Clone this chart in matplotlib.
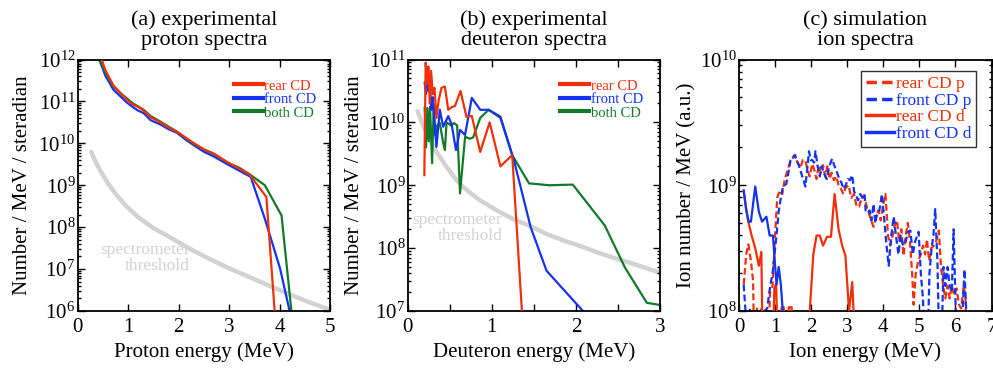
import matplotlib
matplotlib.use("Agg")
import matplotlib.pyplot as plt
import numpy as np
from matplotlib.ticker import LogLocator, FixedLocator, NullFormatter, LogFormatterMathtext

plt.rcParams['font.family'] = ['Liberation Serif', 'DejaVu Serif']
plt.rcParams['mathtext.fontset'] = 'custom'
plt.rcParams['mathtext.rm'] = 'Liberation Serif'
plt.rcParams['mathtext.it'] = 'Liberation Serif:italic'

RED = '#f0300a'
BLUE = '#1433f0'
GREEN = '#137a2a'
GRAY = '#d2d2d2'

# ---------------- (a) proton spectra (log10 values) ----------------
a_red_E = [0.45, 0.55, 0.71, 0.85, 0.97, 1.1, 1.2, 1.31, 1.45, 1.64, 1.8, 1.97, 2.15, 2.31, 2.5, 2.71, 2.85, 2.97, 3.2, 3.41, 3.74, 3.91]
a_red_L = [12.1, 11.75, 11.38, 11.2, 11.05, 10.92, 10.87, 10.78, 10.62, 10.5, 10.38, 10.27, 10.13, 10.0, 9.86, 9.75, 9.64, 9.55, 9.4, 9.25, 8.72, 5.9]
a_blue_E = [0.44, 0.55, 0.71, 0.85, 0.97, 1.1, 1.2, 1.31, 1.45, 1.64, 1.8, 1.97, 2.15, 2.31, 2.5, 2.71, 2.85, 2.97, 3.2, 3.43, 3.71, 4.01, 4.21]
a_blue_L = [11.97, 11.62, 11.28, 11.12, 10.98, 10.86, 10.78, 10.72, 10.55, 10.45, 10.34, 10.25, 10.08, 9.95, 9.8, 9.68, 9.58, 9.5, 9.35, 9.2, 8.2, 7.02, 5.95]
a_green_E = [0.43, 0.55, 0.71, 0.85, 0.97, 1.1, 1.2, 1.31, 1.45, 1.64, 1.8, 1.97, 2.15, 2.31, 2.5, 2.71, 2.85, 2.97, 3.2, 3.41, 3.71, 4.04, 4.24]
a_green_L = [12.0, 11.7, 11.36, 11.2, 11.08, 10.95, 10.88, 10.8, 10.65, 10.52, 10.4, 10.28, 10.12, 9.98, 9.85, 9.74, 9.63, 9.54, 9.42, 9.26, 9.0, 8.28, 5.95]
a_thr_E = [0.27, 0.35, 0.45, 0.6, 0.75, 0.95, 1.2, 1.5, 1.8, 2.2, 2.6, 3.0, 3.5, 4.0, 4.5, 5.0]
a_thr_L = [9.8, 9.58, 9.35, 9.05, 8.8, 8.52, 8.24, 7.98, 7.78, 7.5, 7.25, 7.02, 6.76, 6.5, 6.25, 6.03]

# ---------------- (b) deuteron spectra ----------------
b_red_E = [0.20, 0.216, 0.232, 0.248, 0.264, 0.28, 0.30, 0.32, 0.344, 0.37, 0.404, 0.444, 0.484, 0.524, 0.564, 0.63, 0.70, 0.764, 0.864, 0.976, 1.104, 1.244, 1.364]
b_red_L = [9.16, 10.95, 10.62, 10.89, 10.3, 10.82, 10.45, 10.55, 10.07, 10.35, 10.55, 10.57, 10.2, 10.24, 10.26, 10.5, 10.09, 10.1, 9.53, 10.0, 9.3, 9.48, 6.9]
b_blue_E = [0.204, 0.22, 0.236, 0.252, 0.268, 0.284, 0.30, 0.32, 0.344, 0.384, 0.424, 0.484, 0.524, 0.576, 0.624, 0.684, 0.764, 0.864, 0.964, 1.104, 1.264, 1.464, 1.652, 2.084]
b_blue_L = [10.63, 10.45, 10.6, 10.5, 10.55, 10.2, 10.4, 10.0, 9.61, 10.2, 9.93, 10.1, 9.97, 9.56, 9.88, 9.8, 10.39, 10.2, 10.2, 10.09, 9.4, 8.33, 7.64, 7.0]
b_green_E = [0.204, 0.22, 0.236, 0.252, 0.268, 0.292, 0.312, 0.33, 0.35, 0.384, 0.42, 0.444, 0.464, 0.52, 0.552, 0.59, 0.624, 0.684, 0.74, 0.78, 0.864, 0.964, 1.104, 1.244, 1.444, 1.684, 1.964, 2.344, 2.584, 2.844, 2.98]
b_green_L = [10.23, 9.6, 10.23, 9.7, 10.25, 9.35, 10.28, 9.8, 9.95, 9.99, 9.7, 9.56, 10.0, 9.95, 9.99, 9.95, 8.87, 9.77, 9.74, 9.76, 10.07, 10.2, 10.07, 9.48, 9.03, 9.0, 9.01, 8.36, 7.69, 7.13, 7.1]
b_thr_E = [0.12, 0.2, 0.27, 0.35, 0.46, 0.56, 0.66, 0.86, 1.06, 1.26, 1.46, 1.66, 1.86, 2.06, 2.26, 2.46, 2.66, 2.86, 3.0]
b_thr_L = [10.18, 9.9, 9.72, 9.52, 9.3, 9.12, 8.97, 8.76, 8.6, 8.46, 8.35, 8.22, 8.12, 8.03, 7.93, 7.84, 7.76, 7.67, 7.61]

# ---------------- (c) simulation ion spectra ----------------
c_rp_E = [0.13, 0.20, 0.26, 0.33, 0.39, 0.43, 0.50, 0.55, 0.62, 0.68, 0.80, 0.86, 0.93, 1.0, 1.06, 1.13, 1.2, 1.27, 1.35, 1.43, 1.50, 1.56, 1.62, 1.70, 1.77, 1.84, 1.90, 1.96, 2.03, 2.09, 2.15, 2.21, 2.27, 2.33, 2.39, 2.45, 2.51, 2.57, 2.63, 2.70, 2.76, 2.83, 2.89, 2.96, 3.04, 3.11, 3.19, 3.26, 3.33, 3.40, 3.47, 3.54, 3.60, 3.66, 3.73, 3.80, 3.86, 3.93, 4.0, 4.06, 4.13, 4.19, 4.26, 4.32, 4.38, 4.44, 4.50, 4.56, 4.62, 4.68, 4.74, 4.80, 4.84, 4.90, 4.97, 5.04, 5.10, 5.16, 5.21, 5.27, 5.33, 5.40, 5.47, 5.54, 5.60, 5.66, 5.72, 5.78, 5.84, 5.90, 5.96, 6.03, 6.10, 6.16, 6.23, 6.28, 6.32]
c_rp_L = [8.21, 8.45, 8.53, 8.40, 8.24, 7.6, 8.02, 7.6, 8.03, 7.6, 7.6, 8.15, 8.2, 8.6, 8.9, 8.96, 8.93, 9.05, 9.12, 9.2, 9.22, 9.24, 9.18, 9.14, 9.2, 9.2, 9.12, 9.07, 9.17, 9.12, 9.05, 9.16, 9.1, 9.16, 9.07, 9.15, 9.05, 9.1, 9.04, 9.07, 9.0, 8.97, 8.93, 8.98, 9.0, 8.9, 8.93, 8.83, 8.83, 8.9, 8.92, 8.83, 8.78, 8.72, 8.67, 8.75, 8.8, 8.72, 8.85, 8.93, 8.6, 8.52, 8.6, 8.68, 8.72, 8.55, 8.65, 8.44, 8.6, 8.7, 8.55, 8.3, 8.05, 8.3, 8.4, 8.45, 8.52, 8.45, 8.57, 8.4, 8.5, 8.52, 8.56, 8.64, 8.35, 8.2, 8.1, 8.2, 8.1, 8.2, 8.13, 8.18, 8.05, 8.02, 8.2, 8.1, 7.6]
c_fp_E = [0.13, 0.18, 0.22, 0.30, 0.36, 0.44, 0.50, 0.56, 0.62, 0.70, 0.78, 0.87, 0.93, 0.98, 1.04, 1.10, 1.16, 1.22, 1.31, 1.37, 1.43, 1.49, 1.54, 1.60, 1.66, 1.72, 1.78, 1.84, 1.90, 1.94, 1.99, 2.03, 2.08, 2.12, 2.18, 2.24, 2.29, 2.33, 2.38, 2.43, 2.50, 2.58, 2.65, 2.72, 2.78, 2.84, 2.90, 2.96, 3.02, 3.08, 3.14, 3.19, 3.23, 3.30, 3.36, 3.42, 3.48, 3.51, 3.57, 3.62, 3.67, 3.73, 3.78, 3.82, 3.88, 3.92, 3.96, 4.02, 4.08, 4.15, 4.22, 4.29, 4.35, 4.42, 4.48, 4.55, 4.62, 4.68, 4.75, 4.82, 4.88, 4.94, 4.98, 5.04, 5.10, 5.15, 5.22, 5.28, 5.34, 5.39, 5.44, 5.50, 5.56, 5.60, 5.67, 5.72, 5.78, 5.84, 5.90, 5.95, 6.00, 6.05, 6.12, 6.20, 6.25, 6.30, 6.35]
c_fp_L = [8.21, 8.0, 7.6, 8.02, 7.6, 7.6, 8.01, 7.6, 7.6, 8.0, 8.02, 8.21, 8.3, 8.44, 8.6, 8.79, 8.9, 8.99, 9.01, 9.1, 9.2, 9.22, 9.24, 9.2, 9.16, 9.1, 9.05, 8.99, 9.15, 9.27, 9.2, 9.2, 9.18, 9.27, 9.15, 9.07, 9.15, 9.12, 9.08, 9.05, 9.15, 9.21, 9.15, 9.1, 9.05, 9.02, 8.97, 9.0, 9.05, 9.04, 9.08, 8.95, 8.93, 8.88, 8.93, 8.9, 8.93, 8.8, 8.78, 8.8, 8.72, 8.85, 8.7, 8.76, 8.78, 8.85, 8.93, 8.75, 8.55, 8.36, 8.6, 8.75, 8.6, 8.45, 8.6, 8.52, 8.55, 8.63, 8.64, 8.45, 8.55, 8.6, 8.63, 8.3, 8.1, 7.6, 7.6, 8.3, 8.5, 8.6, 8.81, 8.4, 7.6, 7.6, 8.35, 8.2, 8.35, 8.2, 8.15, 8.65, 8.1, 7.6, 7.6, 8.0, 8.33, 8.0, 7.6]
c_rd_E = [0.13, 0.25, 0.35, 0.45, 0.55, 0.62, 0.66, 0.93, 0.98, 1.03, 1.08, 1.16, 1.18, 1.24, 1.27, 1.36, 1.38, 1.46, 1.49, 1.94, 2.06, 2.15, 2.24, 2.33, 2.44, 2.55, 2.65, 2.76, 2.86, 2.95, 3.05, 3.14, 3.19]
c_rd_L = [8.95, 8.72, 8.6, 8.5, 8.36, 8.47, 7.6, 7.6, 8.18, 8.22, 7.6, 7.6, 8.03, 8.03, 7.6, 7.6, 8.03, 8.03, 7.6, 7.9, 8.45, 8.6, 8.6, 8.52, 8.59, 8.59, 8.93, 8.65, 8.52, 8.44, 8.0, 8.23, 7.9]
c_fd_E = [0.13, 0.2, 0.27, 0.33, 0.45, 0.55, 0.64, 0.76, 0.85, 0.94, 1.04, 1.1, 1.16, 1.24]
c_fd_L = [8.96, 8.8, 8.71, 8.71, 8.99, 8.79, 8.71, 8.75, 8.6, 8.6, 8.21, 8.35, 8.21, 7.9]

a_xticks = [0, 1, 2, 3, 4, 5]
b_xticks = [0, 1, 2, 3]
b_xminor = [0.5, 1.5, 2.5]
c_xticks = [0, 1, 2, 3, 4, 5, 6, 7]
a_ydecades = [6, 7, 8, 9, 10, 11, 12]
b_ydecades = [7, 8, 9, 10, 11]
c_ydecades = [8, 9, 10]

W, H = 993, 368
fig = plt.figure(figsize=(W / 100, H / 100), dpi=100)

def mk_ax(left_px):
    return fig.add_axes([left_px / W, (H - 311) / H, 252.5 / W, 251.5 / H])

axA = mk_ax(77.5)
axB = mk_ax(407.5)
axC = mk_ax(739)

def p(v):
    return 10.0 ** np.asarray(v, dtype=float)

def style(ax, decs, xmax, xt):
    ax.set_yscale('log')
    ax.set_ylim(10.0 ** decs[0], 10.0 ** decs[-1])
    ax.set_xlim(0, xmax)
    ax.set_xticks(xt)
    ax.set_xticklabels([str(t) for t in xt])
    ax.yaxis.set_major_locator(FixedLocator(list(p(decs))))
    ax.yaxis.set_major_formatter(LogFormatterMathtext())
    minors = [m * 10.0 ** d for d in decs[:-1] for m in range(2, 10)]
    ax.yaxis.set_minor_locator(FixedLocator(minors))
    ax.yaxis.set_minor_formatter(NullFormatter())
    ax.tick_params(which='both', direction='in', top=True, right=True, width=1.0)
    ax.tick_params(which='major', length=5, labelsize=15)
    ax.tick_params(which='minor', length=2.5)
    ax.tick_params(axis='x', pad=5)
    ax.tick_params(axis='y', pad=1.5)
    for s in ax.spines.values():
        s.set_linewidth(1.3)

lw = 1.6
TFS = 16
LFS = 15

# (a)
axA.plot(a_thr_E, p(a_thr_L), color=GRAY, lw=3.2, solid_capstyle='round', zorder=1)
axA.plot(a_red_E, p(a_red_L), color=RED, lw=lw, label='rear CD', zorder=3)
axA.plot(a_blue_E, p(a_blue_L), color=BLUE, lw=lw, label='front CD', zorder=2)
axA.plot(a_green_E, p(a_green_L), color=GREEN, lw=lw, label='both CD', zorder=2.5)
style(axA, a_ydecades, 5, a_xticks)
axA.set_title('(a) experimental\nproton spectra', fontsize=TFS, linespacing=1.05, pad=10.5)
axA.set_xlabel('Proton energy (MeV)', fontsize=LFS)
axA.set_ylabel('Number / MeV / steradian', fontsize=LFS)
axA.text(0.445, 0.21, 'spectrometer\nthreshold', transform=axA.transAxes, ha='right',
         va='center', color=GRAY, fontsize=12.5, linespacing=1.0)
legA = axA.legend(loc='upper left', bbox_to_anchor=(0.59, 0.95), frameon=False, fontsize=10.5,
                  handlelength=2.0, handletextpad=0.1, labelspacing=0.02, borderpad=0,
                  labelcolor='linecolor')
for l in legA.get_lines():
    l.set_linewidth(3)

# (b)
axB.plot(b_thr_E, p(b_thr_L), color=GRAY, lw=3.2, solid_capstyle='round', zorder=1)
axB.plot(b_red_E, p(b_red_L), color=RED, lw=lw, label='rear CD', zorder=3)
axB.plot(b_blue_E, p(b_blue_L), color=BLUE, lw=lw, label='front CD', zorder=2.5)
axB.plot(b_green_E, p(b_green_L), color=GREEN, lw=lw, label='both CD', zorder=2)
style(axB, b_ydecades, 3, b_xticks)
axB.xaxis.set_minor_locator(FixedLocator(b_xminor))
axB.tick_params(axis='x', which='minor', length=5)
axB.set_title('(b) experimental\ndeuteron spectra', fontsize=TFS, linespacing=1.05, pad=10.5)
axB.set_xlabel('Deuteron energy (MeV)', fontsize=LFS)
axB.set_ylabel('Number / MeV / steradian', fontsize=LFS)
axB.text(0.375, 0.33, 'spectrometer\nthreshold', transform=axB.transAxes, ha='right',
         va='center', color=GRAY, fontsize=12.5, linespacing=1.0)
legB = axB.legend(loc='upper left', bbox_to_anchor=(0.575, 0.95), frameon=False, fontsize=10.5,
                  handlelength=2.0, handletextpad=0.1, labelspacing=0.02, borderpad=0,
                  labelcolor='linecolor')
for l in legB.get_lines():
    l.set_linewidth(3)

# (c)
dash = (3, 1.5)
axC.plot(c_rp_E, p(c_rp_L), color=RED, lw=lw, ls=(0, dash), label='rear CD p', zorder=2)
axC.plot(c_fp_E, p(c_fp_L), color=BLUE, lw=lw, ls=(0, dash), label='front CD p', zorder=2.5)
axC.plot(c_rd_E, p(c_rd_L), color=RED, lw=lw, label='rear CD d', zorder=3)
axC.plot(c_fd_E, p(c_fd_L), color=BLUE, lw=lw, label='front CD d', zorder=3)
style(axC, c_ydecades, 7, c_xticks)
axC.set_title('(c) simulation\nion spectra', fontsize=TFS, linespacing=1.05, pad=10.5)
axC.set_xlabel('Ion energy (MeV)', fontsize=LFS)
axC.set_ylabel('Ion number / MeV (a.u.)', fontsize=LFS)
legC = axC.legend(loc='upper right', bbox_to_anchor=(0.94, 0.955), frameon=True, fancybox=False,
                  fontsize=12.5, handlelength=1.6, handletextpad=0.1, labelspacing=0.02,
                  borderpad=0.3, borderaxespad=0, labelcolor='linecolor')
legC.get_frame().set_edgecolor('black')
legC.get_frame().set_linewidth(1.0)
for l in legC.get_lines():
    l.set_linewidth(2.5)

for ax, yx in ((axA, -0.18), (axB, -0.172), (axC, -0.167)):
    ax.yaxis.set_label_coords(yx, 0.5)
    ax.xaxis.set_label_coords(0.5, -0.125)

fig.savefig('out.png', dpi=100)
